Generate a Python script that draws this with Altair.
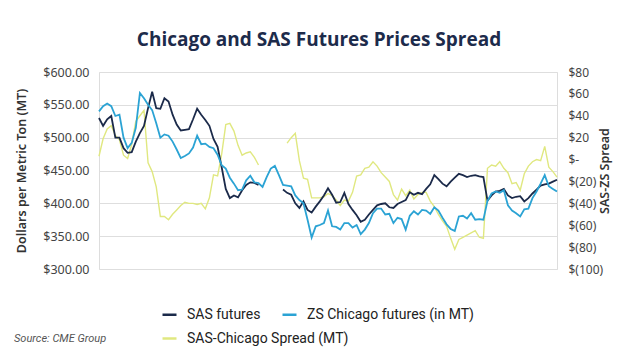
import altair as alt
import pandas as pd

# 10-day grid of observation dates (read along the x axis)
dates = pd.date_range("2023-03-15", periods=113, freq="10D")

sas_futures = [
    530, 518, 528, 533, 500, 500, 484, 477, 478, 494,
    507, 518, 545, 570, 545, 544, 560, 555, 535, 520,
    511, 512, 513, 528, 544, 535, 527, 518, 498, 486,
    455, 422, 408, 412, 409, 420, 428, 432, 431, 428,
    None, None, None, None, None, 421, 416, 413, 400, 393,
    403, 390, 386, 395, 403, 412, 423, 413, 401, 402,
    416, 399, 390, 382, 372, 375, 383, 390, 397, 399,
    400, 394, 393, 399, 402, 405, 417, 413, 416, 414,
    422, 429, 443, 437, 430, 426, 433, 439, 445, 443,
    440, 442, 443, 441, 440, 404, 412, 418, 419, 422,
    412, 408, 410, 411, 403, 408, 415, 421, 427, 429,
    430, 433, 436,
]

zs_chicago = [
    540, 548, 552, 548, 533, 535, 500, 484, 492, 515,
    568, 560, 550, 542, 522, 500, 505, 503, 494, 482,
    469, 472, 476, 485, 503, 490, 491, 486, 484, 474,
    458, 453, 439, 430, 420, 421, 435, 442, 432, 431,
    425, 440, 453, 457, 443, 428, 427, 426, 412, 405,
    400, 375, 348, 365, 367, 370, 389, 365, 364, 360,
    370, 370, 363, 367, 353, 360, 370, 385, 392, 392,
    383, 384, 370, 378, 376, 360, 381, 388, 383, 390,
    389, 384, 394, 389, 378, 368, 361, 358, 380, 381,
    377, 385, 375, 376, 375, 404, 415, 418, 416, 420,
    397, 389, 385, 380, 391, 392, 408, 418, 430, 443,
    426, 422, 418,
]

spread = [
    3, 19, 28, 31, 22, 18, 4, 1, 14, 35,
    40, 45, -3, -11, -25, -52, -52, -55, -50, -46,
    -42, -39, -40, -40, -41, -40, -45, -35, -14, -15,
    5, 32, 33, 26, 13, 4, 6, 7, 2, -5,
    None, None, None, None, None, None, 15, 20, 24, -1,
    -17, -18, -35, -35, -35, -34, -31, -33, -37, -42,
    -37, -38, -30, -15, -14, -8, -7, -2, -6, -12,
    -16, -20, -32, -37, -27, -33, -28, -36, -32, -30,
    -30, -38, -43, -50, -56, -61, -72, -82, -73, -71,
    -69, -67, -65, -71, -72, -8, -5, -6, -2, -8,
    -12, -22, -21, -28, -13, -6, -2, 0, -1, 12,
    -7, -11, -16,
]

series_names = ["SAS futures", "ZS Chicago futures (in MT)"]
series_colors = ["#1b2a4a", "#2ba3d4"]
spread_name = ["SAS-Chicago Spread (MT)"]
spread_color = ["#e0e880"]

left_ticks = [300, 350, 400, 450, 500, 550, 600]
right_ticks = [-100, -80, -60, -40, -20, 0, 20, 40, 60, 80]
x_ticks = [alt.DateTime(year=y, month=3, date=20) for y in (2023, 2024, 2025, 2026)]

price_df = pd.concat([
    pd.DataFrame({"date": dates, "value": sas_futures, "series": series_names[0]}),
    pd.DataFrame({"date": dates, "value": zs_chicago, "series": series_names[1]}),
])
spread_df = pd.DataFrame({"date": dates, "spread": spread, "series": spread_name[0]})

FONT = "Noto Sans"
LINE_SYMBOL = "M-1,0L1,0"
x_scale = alt.Scale(domain=[alt.DateTime(year=2023, month=3, date=15),
                            alt.DateTime(year=2026, month=4, date=8)])

spread_layer = alt.Chart(spread_df).mark_line(strokeWidth=1.4).encode(
    x=alt.X("date:T", scale=x_scale, axis=None),
    y=alt.Y("spread:Q",
            scale=alt.Scale(domain=[-100, 80], nice=False, zero=False),
            axis=alt.Axis(orient="right", values=right_ticks, grid=False, domain=False,
                          ticks=False, labelPadding=11, labelFont=FONT, labelFontSize=12,
                          labelColor="#444",
                          labelExpr="datum.value == 0 ? '$-' : (datum.value < 0 ? '$(' + abs(datum.value) + ')' : '$' + datum.value)",
                          title="SAS-ZS Spread", titleAngle=270, titleFont=FONT,
                          titleFontSize=12.5, titleFontWeight=600, titleColor="#333",
                          titlePadding=9)),
    color=alt.Color("series:N",
                    scale=alt.Scale(domain=spread_name, range=spread_color),
                    legend=alt.Legend(title=None, orient="none", legendX=62, legendY=258,
                                      direction="horizontal", symbolType=LINE_SYMBOL,
                                      symbolStrokeWidth=2.5, symbolSize=196,
                                      labelFont="Roboto", labelFontSize=14,
                                      labelColor="#222", labelOffset=9, labelLimit=0)),
)

price_layer = alt.Chart(price_df).mark_line(strokeWidth=1.8).encode(
    x=alt.X("date:T", scale=x_scale,
            axis=alt.Axis(values=x_ticks, format="%-m/%-d/%Y", title=None, grid=False,
                          domain=False, ticks=True, tickColor="#d0d0d0", tickSize=4,
                          labelPadding=9, labelFont=FONT, labelFontSize=12,
                          labelColor="#444")),
    y=alt.Y("value:Q",
            scale=alt.Scale(domain=[300, 600], nice=False, zero=False),
            axis=alt.Axis(values=left_ticks, format="$,.2f", grid=True, gridColor="#dedede",
                          domain=False, ticks=False, labelPadding=10, labelFont=FONT,
                          labelFontSize=12.5, labelColor="#444",
                          title="Dollars per Metric Ton (MT)", titleFont=FONT,
                          titleFontSize=12.5, titleFontWeight=600, titleColor="#333",
                          titlePadding=14)),
    color=alt.Color("series:N",
                    scale=alt.Scale(domain=series_names, range=series_colors),
                    sort=series_names,
                    legend=alt.Legend(title=None, orient="none", legendX=62, legendY=234,
                                      direction="horizontal", symbolType=LINE_SYMBOL,
                                      symbolStrokeWidth=2.5, symbolSize=196,
                                      labelFont="Roboto", labelFontSize=14,
                                      labelColor="#222", labelOffset=9, labelLimit=0,
                                      columnPadding=16)),
)

source_layer = alt.Chart(pd.DataFrame({"t": ["Source: CME Group"]})).mark_text(
    align="left", baseline="middle", font="Roboto", fontSize=11, fontStyle="italic",
    color="#555"
).encode(text="t:N", x=alt.value(-85), y=alt.value(267))

chart = alt.layer(spread_layer, price_layer, source_layer).resolve_scale(
    y="independent", color="independent"
).properties(
    width=458, height=197,
    title=alt.TitleParams("Chicago and SAS Futures Prices Spread", font="Open Sans",
                          fontSize=19, fontWeight="bold", color="#1d2b4b",
                          anchor="middle", dx=-9, offset=16),
    autosize=alt.AutoSizeParams(type="none"),
    padding={"left": 99, "top": 72, "right": 83, "bottom": 88},
).configure_view(stroke=None).configure(background="white")

chart.save("out.html", embed_options={"renderer": "svg", "actions": False})
